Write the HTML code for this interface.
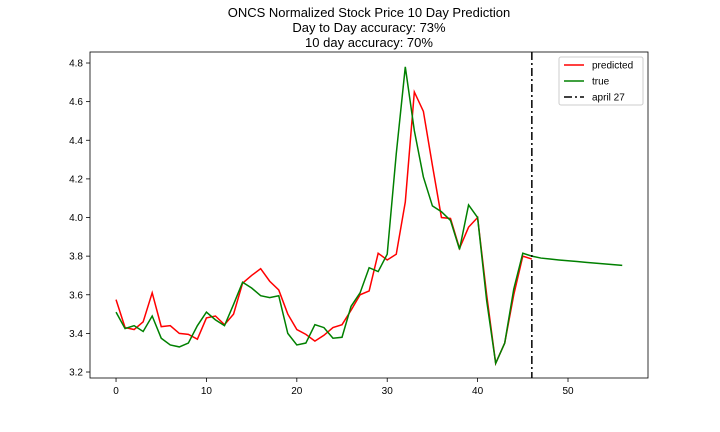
<!DOCTYPE html>
<html><head><meta charset="utf-8"><style>
html,body{margin:0;padding:0;background:#fff;}
svg{display:block;font-family:"Liberation Sans","DejaVu Sans",sans-serif;}
</style></head><body>
<svg id="chart" width="720" height="432">
<g font-size="13" text-anchor="middle" fill="#000">
<text x="369" y="17">ONCS Normalized Stock Price 10 Day Prediction</text>
<text x="369" y="32">Day to Day accuracy: 73%</text>
<text x="369" y="47">10 day accuracy: 70%</text>
</g>
<g id="plot"></g>
</svg>
<script>
const xTicks=[0,10,20,30,40,50];
const yTicks=[3.2,3.4,3.6,3.8,4.0,4.2,4.4,4.6,4.8];
const predicted=[3.575,3.43,3.42,3.46,3.61,3.435,3.44,3.40,3.395,3.37,3.48,3.49,3.445,3.50,3.66,3.70,3.735,3.67,3.625,3.50,3.42,3.395,3.36,3.39,3.43,3.445,3.52,3.60,3.62,3.815,3.78,3.81,4.08,4.65,4.55,4.27,4.00,3.995,3.84,3.95,4.00,3.60,3.245,3.35,3.60,3.80,3.785];
const actual=[3.51,3.425,3.44,3.41,3.49,3.375,3.34,3.33,3.35,3.44,3.51,3.47,3.44,3.55,3.665,3.635,3.595,3.585,3.595,3.40,3.34,3.35,3.445,3.43,3.375,3.38,3.54,3.61,3.74,3.72,3.81,4.33,4.78,4.45,4.21,4.06,4.03,3.985,3.835,4.065,4.00,3.57,3.245,3.35,3.63,3.815,3.80,3.79,3.785,3.78,3.776,3.772,3.768,3.764,3.76,3.756,3.752];
const markerDay=46;
const L=90,R=648,T=52,B=378;
const xMin=-2.88,xMax=58.85,yMin=3.169,yMax=4.857;
const sx=v=>L+(v-xMin)/(xMax-xMin)*(R-L);
const sy=v=>B-(v-yMin)/(yMax-yMin)*(B-T);
const NS="http://www.w3.org/2000/svg";
const g=document.getElementById('plot');
function mk(t,a,p){const e=document.createElementNS(NS,t);for(const k in a)e.setAttribute(k,a[k]);(p||g).appendChild(e);return e;}
xTicks.forEach(v=>{
 const t=mk('line',{x1:sx(v),x2:sx(v),y1:B,y2:B+4,stroke:'#000','stroke-width':0.8});
 
 
 const l=mk('text',{x:sx(v),y:B+16,'font-size':10,'text-anchor':'middle'});l.textContent=v;
 
 
});
yTicks.forEach(v=>{
 const t=mk('line',{x1:L-4,x2:L,y1:sy(v),y2:sy(v),stroke:'#000','stroke-width':0.8});
 
 
 const l=mk('text',{x:L-7,y:sy(v)+3.5,'font-size':10,'text-anchor':'end'});l.textContent=v.toFixed(1);
 
 
});
function line(arr,color,name){
 const p=mk('polyline',{points:arr.map((v,i)=>sx(i)+','+sy(v)).join(' '),fill:'none',stroke:color,'stroke-width':1.5});
 
 
}
line(predicted,'#ff0000','predicted-line');
line(actual,'#008000','true-line');
const vl=mk('line',{x1:sx(markerDay),x2:sx(markerDay),y1:T,y2:B,stroke:'#000','stroke-width':1.5,'stroke-dasharray':'8,3,2,3'});


const fr=mk('rect',{x:L,y:T,width:R-L,height:B-T,fill:'none',stroke:'#000','stroke-width':0.8});


const lg=mk('g',{});


mk('rect',{x:559,y:57,width:84,height:48,rx:2,fill:'#fff',stroke:'#ccc'},lg);
[['predicted','#ff0000',''],['true','#008000',''],['april 27','#000','8,3,2,3']].forEach((e,i)=>{
 const y=65+i*16;
 const s=mk('line',{x1:564,x2:584,y1:y,y2:y,stroke:e[1],'stroke-width':1.5,'stroke-dasharray':e[2]||'none'},lg);
 
 
 const t=mk('text',{x:592,y:y+3.5,'font-size':10},lg);t.textContent=e[0];
 
 
});
</script>
</body></html>
